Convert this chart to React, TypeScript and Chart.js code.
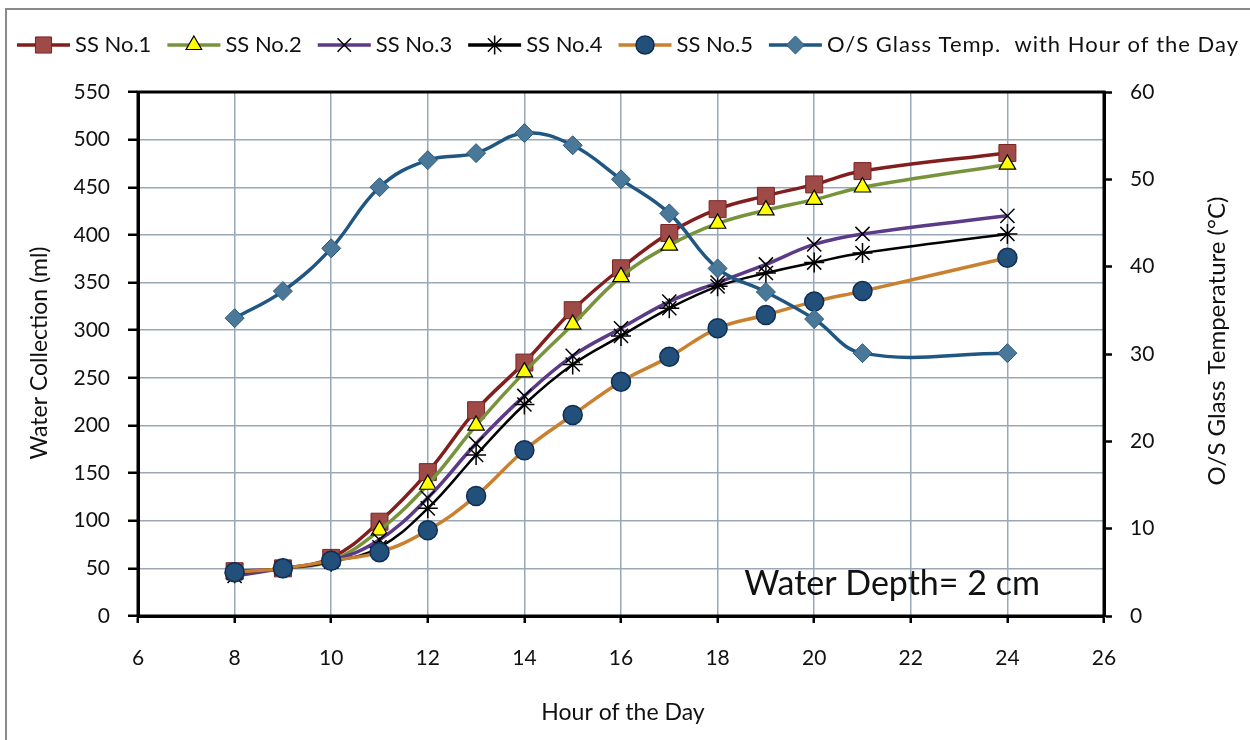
import React, { useEffect, useRef } from "react";
import { Chart, registerables } from "chart.js";

Chart.register(...registerables);

// ---- Data ----
const hours = [8, 9, 10, 11, 12, 13, 14, 15, 16, 17, 18, 19, 20, 21, 24];
const ss1 = [47, 50, 61, 99, 151, 216, 266, 321, 365, 402, 427, 441, 453, 467, 486];
const ss2 = [45, 50, 58, 90, 138, 200, 256, 306, 356, 389, 412, 426, 437, 450, 474];
const ss3 = [42, 50, 58, 80, 124, 181, 231, 273, 302, 330, 350, 369, 390, 401, 420];
const ss4 = [45, 50, 57, 72, 113, 169, 222, 264, 294, 323, 346, 360, 371, 381, 401];
const ss5 = [46, 50, 58, 67, 90, 126, 174, 211, 246, 272, 302, 316, 330, 341, 376];
const glassTemp = [34.1, 37.2, 42.1, 49.1, 52.2, 53.0, 55.3, 53.9, 50.0, 46.1, 39.8, 37.1, 34.0, 30.1, 30.1];

const seriesNames = ["SS No.1", "SS No.2", "SS No.3", "SS No.4", "SS No.5", "O/S Glass Temp.  with Hour of the Day"];
const xTitle = "Hour of the Day";
const yTitle = "Water Collection (ml)";
const y2Title = "O/S Glass Temperature (°C)";
const note = "Water Depth= 2 cm";

const FONT = "Lato, 'Noto Sans', sans-serif";
const TEXT = "#111111";

type Style = {
  line: string;
  lw: number;
  shape: string;
  r: number;
  fill: string;
  stroke: string;
  sw: number;
};

const styles: Style[] = [
  { line: "#821e1e", lw: 3.5, shape: "rect", r: 12, fill: "#9e4a47", stroke: "#7a2424", sw: 1 },
  { line: "#77933c", lw: 3.5, shape: "triangle", r: 9.5, fill: "#ffff00", stroke: "#000000", sw: 1.2 },
  { line: "#5b3a86", lw: 3.5, shape: "crossRot", r: 10, fill: "#000000", stroke: "#000000", sw: 1.5 },
  { line: "#000000", lw: 2.5, shape: "star", r: 10, fill: "#000000", stroke: "#000000", sw: 1.5 },
  { line: "#c9812f", lw: 3.5, shape: "circle", r: 9.5, fill: "#22507a", stroke: "#0e2f55", sw: 1.5 },
  { line: "#1f5682", lw: 3.5, shape: "rectRot", r: 9.5, fill: "#4a7898", stroke: "#2c5b7e", sw: 1 },
];

function drawMarker(ctx: CanvasRenderingContext2D, s: Style, x: number, y: number, scale = 0.8) {
  const r = s.r * scale;
  ctx.save();
  ctx.fillStyle = s.fill;
  ctx.strokeStyle = s.stroke;
  ctx.lineWidth = s.sw;
  ctx.beginPath();
  if (s.shape === "rect") {
    const h = r * Math.SQRT1_2;
    ctx.rect(x - h, y - h, 2 * h, 2 * h);
    ctx.fill();
    ctx.stroke();
  } else if (s.shape === "triangle") {
    ctx.moveTo(x, y - r);
    ctx.lineTo(x + r * 0.866, y + r * 0.5);
    ctx.lineTo(x - r * 0.866, y + r * 0.5);
    ctx.closePath();
    ctx.fill();
    ctx.stroke();
  } else if (s.shape === "crossRot" || s.shape === "star") {
    const d = r * Math.SQRT1_2;
    ctx.moveTo(x - d, y - d);
    ctx.lineTo(x + d, y + d);
    ctx.moveTo(x - d, y + d);
    ctx.lineTo(x + d, y - d);
    if (s.shape === "star") {
      ctx.moveTo(x, y - r);
      ctx.lineTo(x, y + r);
      ctx.moveTo(x - r, y);
      ctx.lineTo(x + r, y);
    }
    ctx.stroke();
  } else if (s.shape === "circle") {
    ctx.arc(x, y, r, 0, Math.PI * 2);
    ctx.fill();
    ctx.stroke();
  } else if (s.shape === "rectRot") {
    ctx.moveTo(x, y - r);
    ctx.lineTo(x + r, y);
    ctx.lineTo(x, y + r);
    ctx.lineTo(x - r, y);
    ctx.closePath();
    ctx.fill();
    ctx.stroke();
  }
  ctx.restore();
}

const decor = {
  id: "decor",
  beforeDraw(chart: any) {
    const { ctx, width, height } = chart;
    ctx.save();
    ctx.fillStyle = "#ffffff";
    ctx.fillRect(0, 0, width, height);
    ctx.strokeStyle = "#8a8a8a";
    ctx.lineWidth = 2;
    ctx.strokeRect(6, 9, width + 50, height + 50);
    ctx.restore();
  },
  afterDraw(chart: any) {
    const { ctx, chartArea: a, scales } = chart;
    ctx.save();
    // plot frame
    ctx.strokeStyle = "#000";
    ctx.lineWidth = 3;
    ctx.strokeRect(a.left, a.top, a.right - a.left, a.bottom - a.top);

    // axis titles
    ctx.fillStyle = TEXT;
    ctx.textBaseline = "middle";
    ctx.textAlign = "center";
    ctx.font = `23px ${FONT}`;
    ctx.fillText(xTitle, (a.left + a.right) / 2 + 2, 713);

    ctx.save();
    ctx.translate(40, 353);
    ctx.rotate(-Math.PI / 2);
    ctx.fillText(yTitle, 0, 0);
    ctx.restore();

    ctx.save();
    ctx.font = `24px ${FONT}`;
    ctx.translate(1217, 341);
    ctx.rotate(-Math.PI / 2);
    ctx.fillText(y2Title, 0, 0);
    ctx.restore();

    // annotation
    ctx.font = `34px ${FONT}`;
    ctx.textAlign = "left";
    ctx.textBaseline = "alphabetic";
    ctx.fillStyle = "#111";
    ctx.fillText(note, scales.x.getPixelForValue(18.55), scales.y.getPixelForValue(22));

    // legend
    ctx.font = `22px ${FONT}`;
    const lineLen = 53;
    const gapLT = 5;
    const gapItem = 16;
    const spacing = seriesNames.map((n, i) => (i === seriesNames.length - 1 ? 1 : 0));
    const widths = seriesNames.map((n, i) => ctx.measureText(n).width + spacing[i] * n.length);
    const total = widths.reduce((s, w) => s + lineLen + gapLT + w, 0) + gapItem * (seriesNames.length - 1);
    let x = 628 - total / 2;
    const ly = 45;
    ctx.textAlign = "left";
    ctx.textBaseline = "middle";
    seriesNames.forEach((n, i) => {
      const s = styles[i];
      ctx.strokeStyle = s.line;
      ctx.lineWidth = 3.5;
      ctx.beginPath();
      ctx.moveTo(x, ly);
      ctx.lineTo(x + lineLen, ly);
      ctx.stroke();
      drawMarker(ctx, s, x + lineLen / 2, ly, 0.95);
      ctx.fillStyle = TEXT;
      (ctx as any).letterSpacing = `${spacing[i]}px`;
      ctx.fillText(n, x + lineLen + gapLT, ly);
      (ctx as any).letterSpacing = "0px";
      x += lineLen + gapLT + widths[i] + gapItem;
    });
    ctx.restore();
  },
};

const allSeries = [ss1, ss2, ss3, ss4, ss5, glassTemp];

export default function App() {
  const ref = useRef<HTMLCanvasElement | null>(null);

  useEffect(() => {
    if (!ref.current) return;
    const datasets = allSeries.map((vals, i) => {
      const s = styles[i];
      return {
        label: seriesNames[i],
        data: hours.map((h, k) => ({ x: h, y: vals[k] })),
        yAxisID: i === 5 ? "y2" : "y",
        borderColor: s.line,
        borderWidth: s.lw,
        tension: 0.4,
        pointStyle: s.shape,
        pointRadius: s.r,
        pointBackgroundColor: s.fill,
        pointBorderColor: s.stroke,
        pointBorderWidth: s.sw,
        order: 10 - i,
        fill: false,
      };
    });
    const gridColor = "#9aa7b8";
    const tickFont = { family: FONT, size: 21 };
    const chart = new Chart(ref.current, {
      type: "line",
      data: { datasets } as any,
      plugins: [decor],
      options: {
        responsive: false,
        animation: false,
        layout: { padding: { top: 92, left: 0, right: 0, bottom: 0 } },
        plugins: { legend: { display: false }, tooltip: { enabled: false }, title: { display: false } },
        scales: {
          x: {
            type: "linear",
            min: 6,
            max: 26,
            ticks: { stepSize: 2, font: tickFont, color: TEXT, padding: 23, maxRotation: 0 },
            grid: { color: gridColor, lineWidth: 1.5, tickColor: "#000", tickLength: 7, tickWidth: 2.5 },
            border: { display: true, color: "#000", width: 3 },
            afterFit: (sc: any) => {
              sc.height = 124;
            },
          },
          y: {
            type: "linear",
            position: "left",
            min: 0,
            max: 550,
            ticks: { stepSize: 50, font: tickFont, color: TEXT, padding: 18 },
            grid: { color: gridColor, lineWidth: 1.5, tickColor: "#000", tickLength: 10, tickWidth: 2.5 },
            border: { display: true, color: "#000", width: 3 },
            afterFit: (sc: any) => {
              sc.width = 138;
            },
          },
          y2: {
            type: "linear",
            position: "right",
            min: 0,
            max: 60,
            ticks: { stepSize: 10, font: tickFont, color: TEXT, padding: 18 },
            grid: { drawOnChartArea: false, tickColor: "#000", tickLength: 8, tickWidth: 2.5 },
            border: { display: true, color: "#000", width: 3 },
            afterFit: (sc: any) => {
              sc.width = 146;
            },
          },
        },
      } as any,
    });
    return () => chart.destroy();
  }, []);

  return (
    <div style={{ position: "absolute", left: 0, top: 0, width: 1250, height: 740, background: "#fff" }}>
      <canvas ref={ref} width={1250} height={740} style={{ display: "block" }} />
    </div>
  );
}
